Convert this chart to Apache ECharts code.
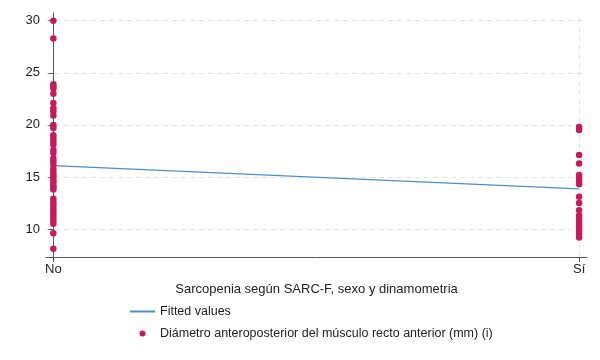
<!DOCTYPE html>
<html>
<head>
<meta charset="utf-8">
<script src="https://cdn.jsdelivr.net/npm/echarts@6/dist/echarts.min.js"></script>
<style>
  html, body { margin: 0; padding: 0; background: #fff; }
  #chart { width: 600px; height: 360px; }
</style>
</head>
<body>
<div id="chart"></div>
<script>
// categorias del eje x (0 = No, 1 = Sí)
var categories = ["No", "Sí"];
var yTicks = [10, 15, 20, 25, 30];

// diámetro anteroposterior por grupo
var valuesNo = [30.0, 28.3, 23.9, 23.7, 23.5, 23.0, 22.1, 21.6, 21.3, 20.9, 20.0, 19.7,
  19.0, 18.7, 18.4, 18.1, 17.6, 17.3, 16.8, 16.5, 16.2, 15.8, 15.5, 15.2, 15.0, 14.7,
  14.5, 14.2, 14.0, 13.8, 12.9, 12.6, 12.3, 12.0, 11.7, 11.4, 11.1, 10.8, 10.5, 9.6, 8.1];
var valuesSi = [19.8, 19.5, 17.1, 16.3, 15.2, 14.9, 14.6, 14.3, 13.1, 12.5, 11.8,
  11.3, 11.0, 10.7, 10.4, 10.1, 9.8, 9.5, 9.2];

// recta ajustada
var fitted = [16.1, 13.85];

var scatterData = valuesNo.map(function (v) { return [0, v]; })
  .concat(valuesSi.map(function (v) { return [1, v]; }));
var fitData = fitted.map(function (v, i) { return [i, v]; });

var chart = echarts.init(document.getElementById("chart"));
var gridStyle = { color: "#e4e4e4", type: [5, 4], width: 1 };

chart.setOption({
  animation: false,
  textStyle: { fontFamily: "Liberation Sans, Arial, sans-serif" },
  grid: { left: 46, right: 13, top: 13, bottom: 103 },
  xAxis: {
    type: "value",
    min: -0.014,
    max: 1.015,
    name: "Sarcopenia según SARC-F, sexo y dinamometria",
    nameLocation: "middle",
    nameGap: 26,
    nameTextStyle: { color: "#222", fontSize: 13 },
    axisLine: { show: true, lineStyle: { color: "#555" } },
    axisTick: { show: true, length: 5, customValues: [0, 1], lineStyle: { color: "#555" } },
    axisLabel: {
      customValues: [0, 1],
      color: "#222",
      fontSize: 13,
      margin: 6,
      formatter: function (v) { return categories[Math.round(v)]; }
    },
    splitLine: { show: false }
  },
  yAxis: {
    type: "value",
    min: 7.32,
    max: 30.74,
    axisLine: { show: true, lineStyle: { color: "#555" } },
    axisTick: { show: true, length: 5, customValues: yTicks, lineStyle: { color: "#555" } },
    axisLabel: { customValues: yTicks, color: "#222", fontSize: 13, margin: 6 },
    splitLine: { show: false }
  },
  legend: {
    orient: "vertical",
    left: 124,
    top: 300,
    itemWidth: 25,
    itemHeight: 6,
    itemGap: 9,
    textStyle: { color: "#222", fontSize: 12.5 },
    data: [
      { name: "Fitted values", itemStyle: { opacity: 0 } },
      { name: "Diámetro anteroposterior del músculo recto anterior (mm) (i)" }
    ]
  },
  series: [
    {
      name: "grid",
      type: "line",
      data: [],
      silent: true,
      z: 0,
      zlevel: 0,
      markLine: {
        silent: true,
        symbol: "none",
        z: 0,
        label: { show: false },
        lineStyle: gridStyle,
        data: yTicks.map(function (t) { return { yAxis: t }; })
          .concat([{ xAxis: 0 }, { xAxis: 1 }])
      }
    },
    {
      name: "Fitted values",
      type: "line",
      symbol: "none",
      data: fitData,
      lineStyle: { color: "#4a90c8", width: 1.3 },
      itemStyle: { color: "#4a90c8" },
      z: 3
    },
    {
      name: "Diámetro anteroposterior del músculo recto anterior (mm) (i)",
      type: "scatter",
      symbolSize: 6.5,
      data: scatterData,
      itemStyle: { color: "#c8195c", opacity: 1 },
      z: 10
    }
  ]
});
</script>
</body>
</html>
